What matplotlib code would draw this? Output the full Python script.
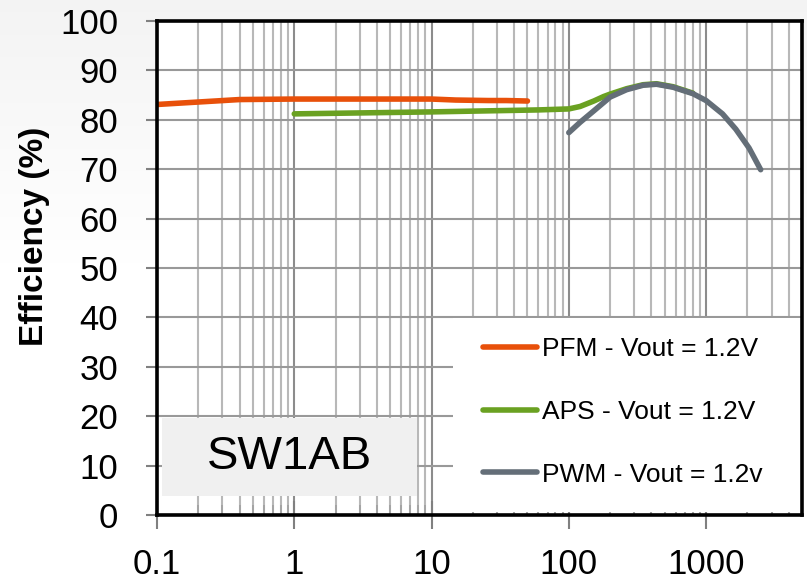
import numpy as np
import matplotlib
matplotlib.use("Agg")
import matplotlib.pyplot as plt
from matplotlib.patches import Rectangle

plt.rcParams['font.family'] = ['Liberation Sans', 'DejaVu Sans']

# ---- data ----
pfm_x = [0.1, 0.2, 0.4, 1, 10, 15, 26, 35, 50]
pfm_y = [83.1, 83.6, 84.1, 84.2, 84.2, 84.0, 83.9, 83.9, 83.8]

aps_x = [1, 10, 60, 100, 121, 152, 179, 200, 264, 348, 435, 574, 801]
aps_y = [81.2, 81.6, 82.0, 82.2, 82.7, 83.8, 84.7, 85.2, 86.3, 87.1, 87.3, 86.7, 85.4]

pwm_x = [100, 121, 152, 200, 264, 348, 435, 574, 801, 1000, 1318, 1648, 2056, 2500]
pwm_y = [77.4, 79.5, 81.8, 84.6, 86.1, 87.0, 87.2, 86.6, 85.3, 83.9, 81.2, 78.1, 74.3, 69.9]

labels = ['PFM - Vout = 1.2V', 'APS - Vout = 1.2V', 'PWM - Vout = 1.2v']
colors = ['#E8500A', '#6AA121', '#646E78']
x_ticks = [0.1, 1, 10, 100, 1000]
x_ticklabels = ['0.1', '1', '10', '100', '1000']
y_ticks = list(range(0, 101, 10))

W, H = 807, 584
fig = plt.figure(figsize=(W / 100, H / 100), dpi=100)

# background gradient
bg = fig.add_axes([0, 0, 1, 1], zorder=-10)
grad = np.linspace(0, 1, 256).reshape(-1, 1)
top_c = np.array([0.955, 0.955, 0.955])
img = np.ones((256, 1, 3))
frac = np.clip(grad / 0.45, 0, 1)
img[:, 0, :] = top_c + (1 - top_c) * frac
bg.imshow(img, aspect='auto', extent=[0, 1, 0, 1])
bg.axis('off')

L, R, B, T = 157, 802, 515, 21
ax = fig.add_axes([L / W, 1 - B / H, (R - L) / W, (B - T) / H])
ax.set_facecolor('white')
ax.set_xscale('log')
ax.set_xlim(0.1, 5000)
ax.set_ylim(0, 100)

ax.grid(which='major', axis='x', color='#8c8c8c', lw=1.5, zorder=0)
ax.grid(which='minor', axis='x', color='#b8b8b8', lw=1.5, zorder=0)
ax.grid(which='major', axis='y', color='#999999', lw=1.5, zorder=0)
ax.set_axisbelow(True)

# white legend area and label box cover the grid
ax.add_patch(Rectangle((0.459, 0.006), 0.541, 0.392, transform=ax.transAxes,
                       facecolor='white', edgecolor='none', zorder=1))
ax.add_patch(Rectangle((0.0078, 0.0385), 0.395, 0.158, transform=ax.transAxes,
                       facecolor='#f0f0f0', edgecolor='none', zorder=1))
ax.text(0.206, 0.118, 'SW1AB', transform=ax.transAxes, fontsize=34,
        ha='center', va='center', zorder=2)

lw = 4.0
h1, = ax.plot(pfm_x, pfm_y, color=colors[0], lw=lw, solid_capstyle='round',
              solid_joinstyle='round', zorder=3)
h2, = ax.plot(aps_x, aps_y, color=colors[1], lw=lw, solid_capstyle='round',
              solid_joinstyle='round', zorder=3)
h3, = ax.plot(pwm_x, pwm_y, color=colors[2], lw=lw, solid_capstyle='round',
              solid_joinstyle='round', zorder=4)

leg = fig.legend([h1, h2, h3], labels, loc='upper left',
                 bbox_to_anchor=(483 / W, 1 - 337 / H), frameon=False,
                 fontsize=19, handlelength=2.05, handletextpad=0.2,
                 labelspacing=1.47, borderpad=0, borderaxespad=0)

for s in ax.spines.values():
    s.set_color('black')
    s.set_linewidth(2.6)
    s.set_zorder(5)

ax.set_xticks(x_ticks)
ax.set_xticklabels(x_ticklabels)
ax.set_yticks(y_ticks)
ax.tick_params(axis='x', which='major', direction='inout', length=20, width=1.5,
               color='#808080', labelsize=25, pad=14)
ax.tick_params(axis='x', which='minor', direction='in', length=7, width=1.2,
               color='#a0a0a0')
ax.tick_params(axis='y', which='major', direction='out', length=8, width=1.5,
               color='#808080', labelsize=25, pad=20)

fig.text(35 / W, 1 - 236 / H, 'Efficiency (%)', rotation=90, fontsize=24,
         fontweight='bold', ha='center', va='center')

fig.savefig('out.png', dpi=100)
